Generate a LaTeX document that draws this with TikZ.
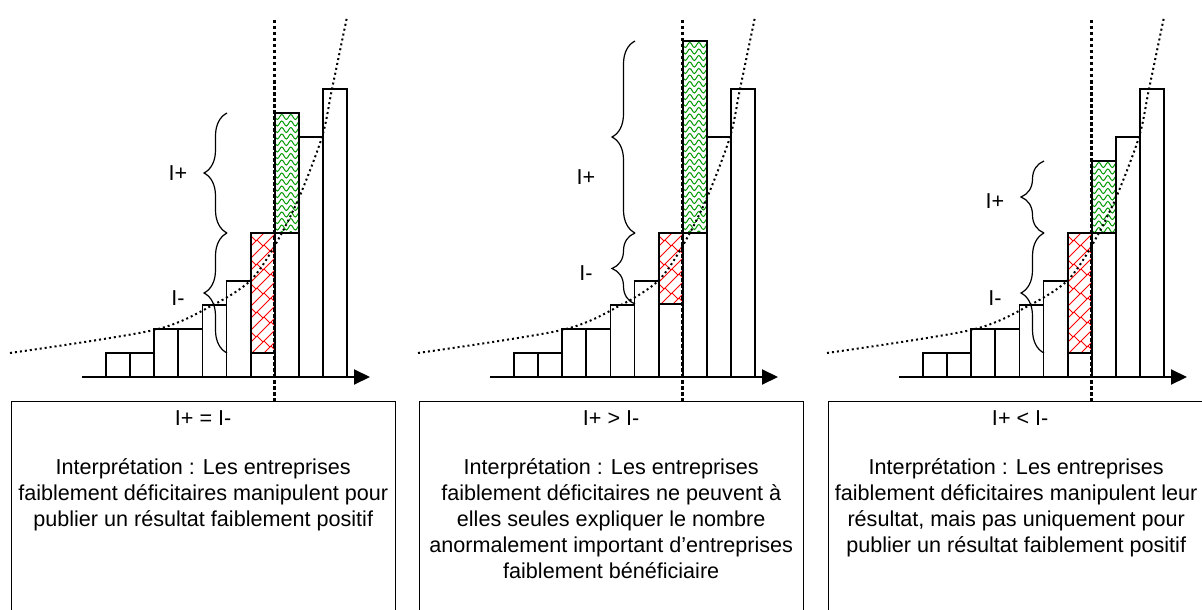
\documentclass[tikz,border=0pt]{standalone}
\usepackage{fontspec}
\setmainfont{Liberation Sans}
\usetikzlibrary{arrows.meta,decorations.pathreplacing,decorations.pathmorphing,positioning}

\begin{document}
\begin{tikzpicture}[x=1pt,y=-1pt,font=\fontsize{21.6}{26}\selectfont,
    bar/.style={draw,fill=white,line width=1.8pt},
    seuil/.style={line width=3.5pt,dash pattern=on 3.5pt off 2.5pt},
    courbe/.style={line width=2pt,dash pattern=on 2pt off 3pt},
    accolade/.style={decorate,decoration={brace,amplitude=23pt},line width=1.2pt},
    cadre/.style={draw,line width=1.4pt,minimum width=384pt,minimum height=240pt,anchor=north west},
    texte/.style={inner sep=0pt,align=center}]
  \clip (0,0) rectangle (1202,610);

  \foreach \dx/\wt/\gt/\yp/\ym [count=\k] in {106/353/113/173/298,514/304/41/177/273,923/353/161/201/298}{
    \begin{scope}[xshift=\dx pt]
      % histogram
      \foreach \h [count=\i from 0] in {353,353,329,329,305,281,\wt,233,137,89}
        \draw[bar] ({24.1*\i},377) rectangle ({24.1*(\i+1)},\h);

      % I- part (red)
      \begin{scope}
        \clip (144.6,233) rectangle (168.7,\wt);
        \foreach \i in {0,...,16}{
          \draw[red,line width=0.9pt] (130,{225+12*\i}) -- ++(60,-60);
          \foreach \j in {0,...,5}
            \draw[red,line width=0.9pt] ({130+14*\j+7*mod(\i,2)},{225+12*\i-14*\j-7*mod(\i,2)}) -- ++(6,6);
        }
      \end{scope}
      \draw[line width=1.8pt] (144.6,233) rectangle (168.7,\wt);

      % I+ part (green)
      \begin{scope}
        \clip (168.7,\gt) rectangle (192.8,233);
        \foreach \i in {0,...,30}
          \draw[green!60!black,line width=1pt,decorate,decoration={snake,amplitude=2.5pt,segment length=9pt}]
            (164,{\gt+4+6.5*\i}) -- (200,{\gt+4+6.5*\i});
      \end{scope}
      \draw[line width=1.8pt] (168.7,\gt) rectangle (192.8,233);

      \draw[courbe] plot[smooth] coordinates {(-96,353) (48,330) (107,305) (144,281) (168,247) (192,200) (216,137) (226,89) (241,17)};
      \draw[line width=2pt,-{Triangle[length=16pt,width=15pt]}] (-24,377) -- (264,377);

      \draw[accolade] (121,\wt) -- (121,233);
      \draw[accolade] (121,233) -- (121,\gt);
      \node (plus\k) at (72,\yp) {I+};
      \node (moins\k) at (72,\ym) {I-};

      \node[cadre] (box\k) at (-95.5,401) {};
      \coordinate (haut\k) at (168.7,20);
      \draw[seuil] (haut\k) -- (haut\k |- box\k.north);
    \end{scope}
  }

  \node[texte,below=9pt of box1.north] (titre1) {I+ = I-};
  \node[texte,below=33pt of titre1] (corps1) {Interprétation : Les entreprises\\faiblement déficitaires manipulent pour\\publier un résultat faiblement positif};

  \node[texte,below=9pt of box2.north] (titre2) {I+ > I-};
  \node[texte,below=33pt of titre2] (corps2) {Interprétation : Les entreprises\\faiblement déficitaires ne peuvent à\\elles seules expliquer le nombre\\anormalement important d’entreprises\\faiblement bénéficiaire};

  \node[texte,below=9pt of box3.north] (titre3) {I+ < I-};
  \node[texte,below=33pt of titre3,xshift=-4pt] (corps3) {Interprétation : Les entreprises\\faiblement déficitaires manipulent leur\\résultat, mais pas uniquement pour\\publier un résultat faiblement positif};
\end{tikzpicture}
\end{document}
